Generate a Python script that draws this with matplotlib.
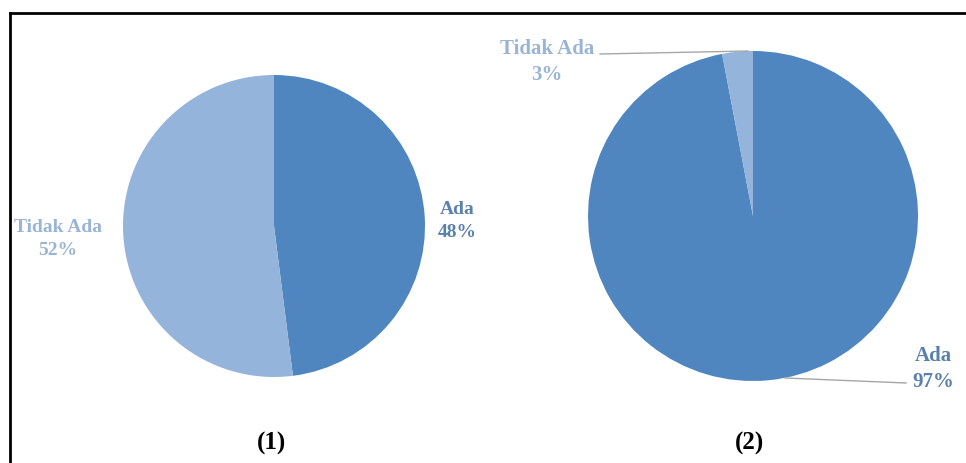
import matplotlib.pyplot as plt
from matplotlib.lines import Line2D

plt.rcParams['font.family'] = ['Liberation Serif', 'DejaVu Serif']

# data
labels = ["Ada", "Tidak Ada"]
values_1 = [48, 52]
values_2 = [97, 3]
panel_titles = ["(1)", "(2)"]

dark = "#4F86BF"
light = "#95B4DB"
dark_text = "#5A80AC"
light_text = "#9AB4D6"

H = 463
fig = plt.figure(figsize=(9.66, 4.63), dpi=100)
ax = fig.add_axes([0, 0, 1, 1])

# pie 1
ax.pie(values_1, colors=[dark, light], startangle=90, counterclock=False,
       center=(274, H - 226), radius=151, wedgeprops=dict(linewidth=0))
# pie 2
ax.pie(values_2, colors=[dark, light], startangle=90, counterclock=False,
       center=(753, H - 216), radius=165, wedgeprops=dict(linewidth=0))
ax.set_xlim(0, 966)
ax.set_ylim(0, H)
ax.set_aspect("equal")
ax.axis("off")

lab = dict(fontweight="bold", ha="center", va="center")
ax.text(58, H - 239, f"{labels[1]}\n{values_1[1]}%", color=light_text, fontsize=14, linespacing=1.5, **lab)
ax.text(457, H - 221, f"{labels[0]}\n{values_1[0]}%", color=dark_text, fontsize=14, linespacing=1.5, **lab)
ax.text(547, H - 62, f"{labels[1]}\n{values_2[1]}%", color=light_text, fontsize=15, linespacing=1.4, **lab)
ax.text(933, H - 369, f"{labels[0]}\n{values_2[0]}%", color=dark_text, fontsize=15, linespacing=1.35, **lab)

# leader lines
ax.plot([600, 748], [H - 54, H - 51], color="#A6A6A6", lw=1)
ax.plot([906, 785], [H - 383, H - 378], color="#A6A6A6", lw=1)

ax.text(272, H - 443, panel_titles[0], fontsize=18, fontweight="bold", ha="center", va="center")
ax.text(750, H - 443, panel_titles[1], fontsize=18, fontweight="bold", ha="center", va="center")

# frame (top and left only, rest cut off)
fig.add_artist(Line2D([9.5 / 966, 965 / 966], [1 - 12.5 / H] * 2, color="black", lw=2))
fig.add_artist(Line2D([9.5 / 966] * 2, [1 - 12.5 / H, 0], color="black", lw=2))

fig.savefig("out.png", dpi=100)
